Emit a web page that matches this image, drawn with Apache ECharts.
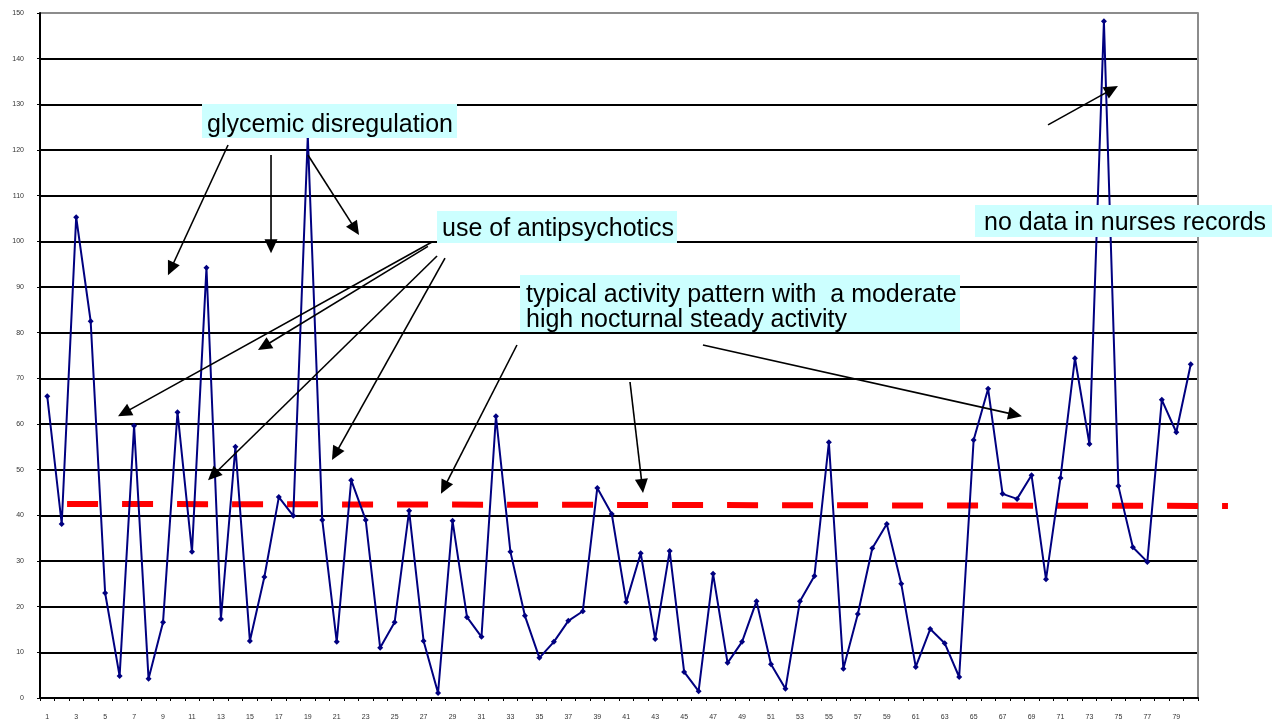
<!DOCTYPE html>
<html>
<head>
<meta charset="utf-8">
<script src="https://cdn.jsdelivr.net/npm/echarts@6/dist/echarts.min.js"></script>
<style>html,body{margin:0;padding:0;background:#fff;}#chart{width:1288px;height:727px;}</style>
</head>
<body>
<div id="chart"></div>
<script>
// ---- data ----
const categories = Array.from({length: 80}, (_, i) => String(i + 1));
const activity = [66.1, 38.1, 105.3, 82.5, 23, 4.8, 59.6, 4.2, 16.6, 62.6,
  32, 94.2, 17.3, 55, 12.5, 26.5, 44, 39.9, 123, 39,
  12.3, 47.7, 39, 11, 16.6, 41, 12.5, 1.1, 38.8, 17.7,
  13.4, 61.7, 32, 18, 8.8, 12.3, 16.9, 19, 46, 40.3,
  21, 31.7, 12.9, 32.2, 5.7, 1.5, 27.2, 7.7, 12.3, 21.2,
  7.4, 2, 21.2, 26.7, 56, 6.4, 18.4, 32.8, 38.1, 25,
  6.8, 15.1, 12, 4.6, 56.5, 67.7, 44.7, 43.6, 48.8, 26,
  48.2, 74.4, 55.6, 148.2, 46.4, 33, 29.8, 65.3, 58.2, 73.1];
const baselineStart = [2.37, 42.5];
const baselineEnd = [82.57, 42.05];
const yTicks = {min: 0, max: 150, interval: 10};

// annotation labels
const labelTexts = {
  glycemic: 'glycemic disregulation',
  antipsy: 'use of antipsychotics',
  typical1: 'typical activity pattern with  a moderate',
  typical2: 'high nocturnal steady activity',
  nodata: 'no data in nurses records'
};
// arrows in data units: [fromX, fromY, toX, toY] (x = category position, 1-based)
const arrows = [
  [13.49, 121.1, 9.34, 92.6],
  [16.46, 118.9, 16.46, 97.4],
  [19.01, 118.9, 22.54, 101.4],
  [27.55, 99.8, 5.89, 61.7],
  [27.30, 98.9, 15.56, 76.2],
  [27.93, 96.8, 12.11, 47.7],
  [28.48, 96.3, 20.67, 52.1],
  [33.45, 77.3, 28.20, 44.7],
  [41.26, 69.2, 42.16, 44.9],
  [46.30, 77.3, 68.34, 61.7],
  [70.14, 125.5, 74.97, 134.0]
];

const chart = echarts.init(document.getElementById('chart'), null, {renderer: 'canvas'});
const FONT = '"Liberation Sans", Arial, sans-serif';
const splitColors = [];
for (let v = yTicks.min; v <= yTicks.max; v += yTicks.interval) splitColors.push(v === yTicks.max ? '#8c8c8c' : '#000');

chart.setOption({
  backgroundColor: '#fff',
  animation: false,
  grid: {left: 40, right: 90, top: 13, bottom: 29, containLabel: false},
  xAxis: [{
    type: 'category', data: categories, boundaryGap: true,
    axisLine: {show: true, lineStyle: {color: '#000', width: 2}},
    axisTick: {show: true, interval: 0, length: 3, lineStyle: {color: '#000', width: 1}},
    axisLabel: {interval: 1, fontSize: 7, color: '#333', margin: 16, fontFamily: FONT},
    splitLine: {show: false}
  }, {
    type: 'value', min: 0.5, max: 80.5, show: false
  }],
  yAxis: [{
    type: 'value', min: yTicks.min, max: yTicks.max, interval: yTicks.interval,
    axisLine: {show: true, lineStyle: {color: '#000', width: 2}},
    axisTick: {show: true, length: 3, lineStyle: {color: '#000', width: 1}},
    axisLabel: {fontSize: 7, color: '#333', margin: 16, fontFamily: FONT},
    splitLine: {show: true, lineStyle: {color: splitColors, width: 2}}
  }, {
    type: 'value', position: 'right', min: yTicks.min, max: yTicks.max, interval: yTicks.interval,
    axisLine: {show: true, lineStyle: {color: '#8c8c8c', width: 2}},
    axisTick: {show: false}, axisLabel: {show: false}, splitLine: {show: false}
  }],
  series: [{
    name: 'activity', type: 'line', xAxisIndex: 0, yAxisIndex: 0,
    data: activity, symbol: 'diamond', symbolSize: 6, z: 3,
    itemStyle: {color: '#000080'},
    lineStyle: {color: '#000080', width: 2}
  }]
});

function px(x, y) {
  return chart.convertToPixel({xAxisIndex: 1, yAxisIndex: 0}, [x, y]);
}

const graphics = [];
// red dashed reference level
const b0 = px(baselineStart[0], baselineStart[1]);
const b1 = px(baselineEnd[0], baselineEnd[1]);
graphics.push({
  type: 'line', z: 1,
  shape: {x1: b0[0], y1: b0[1], x2: b1[0], y2: b1[1]},
  style: {stroke: '#ff0000', lineWidth: 6, lineDash: [31, 24]}
});
// arrows
arrows.forEach(a => {
  const p0 = px(a[0], a[1]);
  const p1 = px(a[2], a[3]);
  const dx = p1[0] - p0[0], dy = p1[1] - p0[1];
  const L = Math.sqrt(dx * dx + dy * dy);
  const ux = dx / L, uy = dy / L;
  const hl = 14, hw = 6.5;
  const bx = p1[0] - ux * hl, by = p1[1] - uy * hl;
  graphics.push({
    type: 'line', z: 10,
    shape: {x1: p0[0], y1: p0[1], x2: bx + ux * 2, y2: by + uy * 2},
    style: {stroke: '#000', lineWidth: 1.6}
  });
  graphics.push({
    type: 'polygon', z: 10,
    shape: {points: [[p1[0], p1[1]], [bx - uy * hw, by + ux * hw], [bx + uy * hw, by - ux * hw]]},
    style: {fill: '#000'}
  });
});

function box(x, y, w, h, lines, tx, baselines) {
  graphics.push({type: 'rect', z: 20, shape: {x: x, y: y, width: w, height: h}, style: {fill: '#ccffff'}});
  lines.forEach((t, i) => {
    graphics.push({
      type: 'text', z: 21, x: tx, y: baselines[i],
      style: {text: t, fill: '#000', font: '25px ' + FONT, textAlign: 'left', textVerticalAlign: 'middle'}
    });
  });
}
box(202, 104, 255, 34, [labelTexts.glycemic], 207, [125]);
box(437, 211, 240, 32, [labelTexts.antipsy], 442, [229]);
box(520, 275, 440, 57, [labelTexts.typical1, labelTexts.typical2], 526, [295, 320]);
box(975, 205, 297, 32, [labelTexts.nodata], 984, [223]);

chart.setOption({graphic: graphics});
</script>
</body>
</html>
